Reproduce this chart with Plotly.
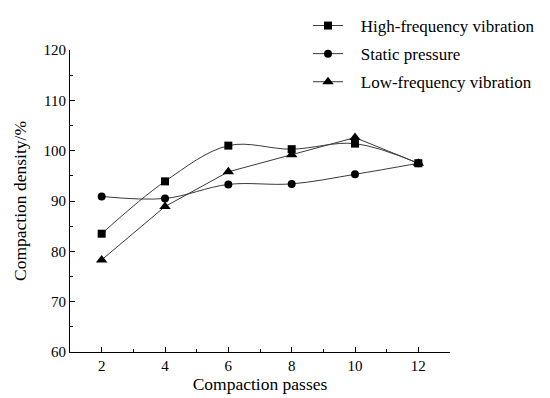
import plotly.graph_objects as go

passes = [2, 4, 6, 8, 10, 12]
high_freq = [83.5, 93.9, 101.0, 100.3, 101.4, 97.5]
static_p = [90.9, 90.5, 93.3, 93.4, 95.3, 97.5]
low_freq = [78.3, 88.9, 95.8, 99.2, 102.6, 97.5]
series_names = ["High-frequency vibration", "Static pressure", "Low-frequency vibration"]

FONT = "Liberation Serif"
LINE = "#3a3a3a"
GAP = "\u00a0" * 3  # extra gap between legend symbol and label

fig = go.Figure()
fig.add_trace(go.Scatter(x=passes, y=high_freq, name=GAP + series_names[0], legendgroup="a",
                         mode="lines+markers", line=dict(color=LINE, width=1, shape="spline", smoothing=1.0),
                         marker=dict(symbol="square", size=8, color="black")))
fig.add_trace(go.Scatter(x=passes, y=static_p, name=GAP + series_names[1], legendgroup="b",
                         mode="lines+markers", line=dict(color=LINE, width=1, shape="spline", smoothing=1.0),
                         marker=dict(symbol="circle", size=8, color="black")))
fig.add_trace(go.Scatter(x=passes, y=low_freq, name=GAP + series_names[2], legendgroup="c",
                         mode="lines+markers", line=dict(color=LINE, width=1),
                         marker=dict(symbol="triangle-up", size=10, color="black")))

axis_common = dict(showline=True, linecolor="black", linewidth=1, ticks="inside",
                   ticklen=5, tickcolor="black", showgrid=False, zeroline=False,
                   automargin=False,
                   tickfont=dict(family=FONT, size=15, color="black"))

fig.update_layout(
    width=550, height=398,
    margin=dict(l=62, r=108, t=42, b=54, autoexpand=False),
    paper_bgcolor="white", plot_bgcolor="white",
    font=dict(family=FONT, color="black"),
    xaxis=dict(range=[1, 13], tick0=2, dtick=2,
               minor=dict(ticks="inside", ticklen=3, dtick=1, tick0=1, tickcolor="black"),
               title=dict(text="Compaction passes", font=dict(family=FONT, size=17.5), standoff=4),
               **axis_common),
    yaxis=dict(range=[60, 120], tick0=60, dtick=10,
               minor=dict(ticks="inside", ticklen=3, dtick=5, tick0=60, tickcolor="black"),
               title=dict(text="Compaction density/%", font=dict(family=FONT, size=17.5), standoff=12),
               **axis_common),
    legend=dict(xref="container", yref="container", x=300 / 550, y=1.0 + 2 / 398,
                xanchor="left", yanchor="top",
                font=dict(family=FONT, size=17), bgcolor="rgba(0,0,0,0)",
                traceorder="grouped", tracegroupgap=3),
    showlegend=True,
)

fig.write_html("out.html")
